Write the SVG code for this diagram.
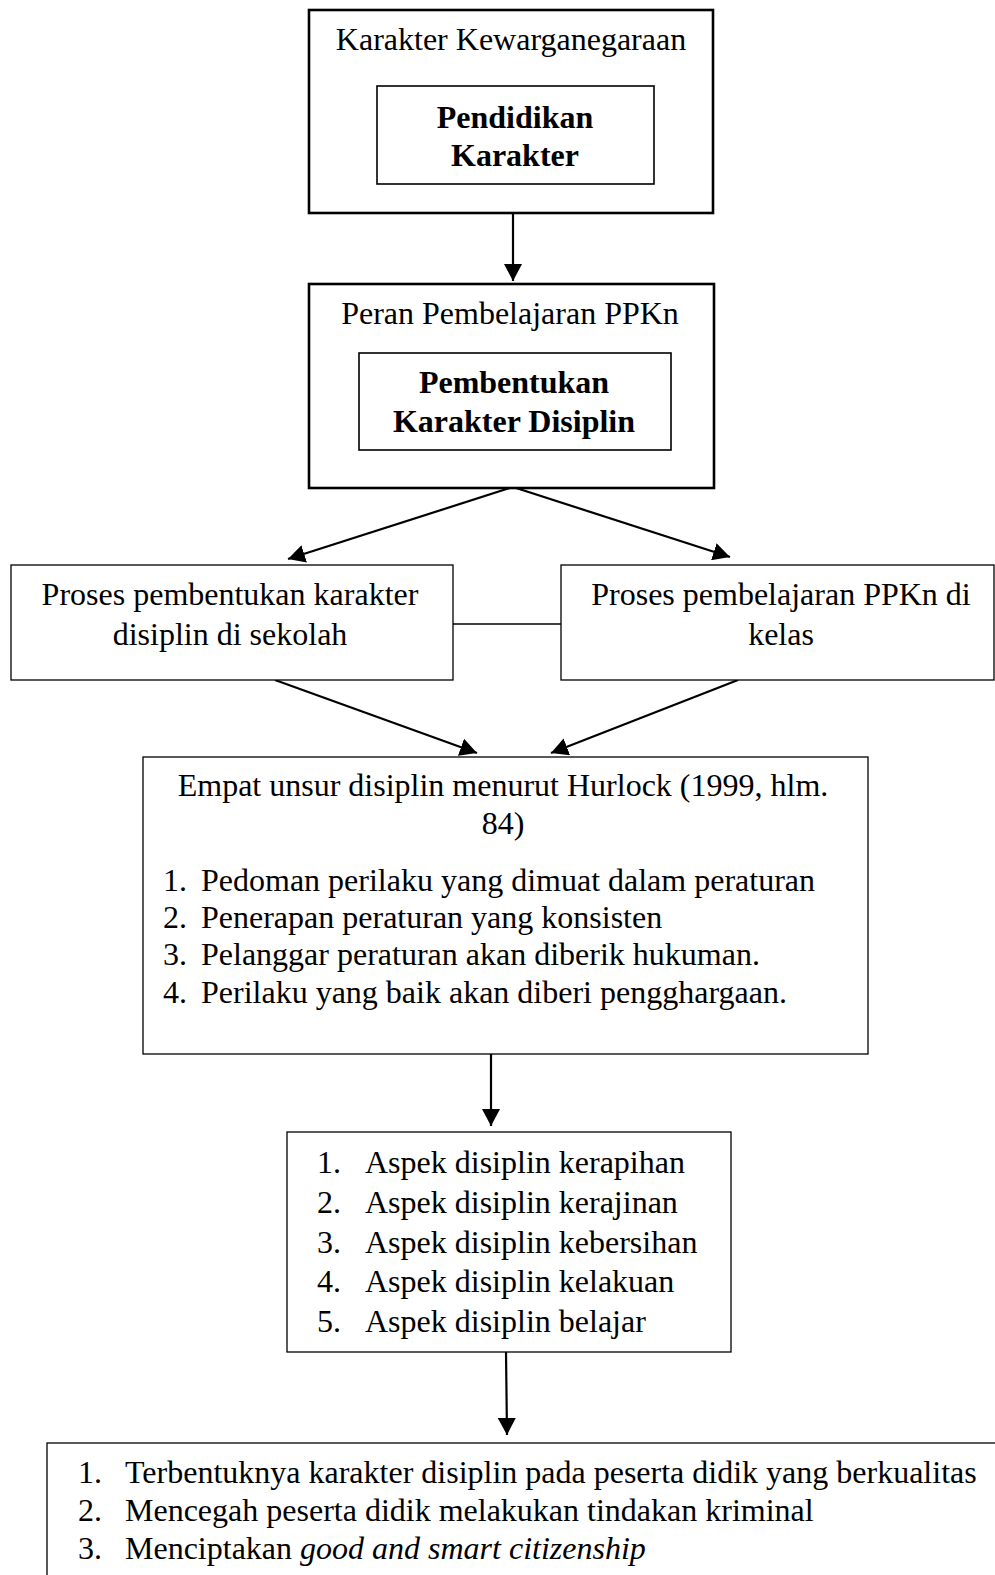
<svg xmlns="http://www.w3.org/2000/svg" width="995" height="1575" viewBox="0 0 995 1575">
<style>
  text { font-family: "Liberation Serif", "Times New Roman", serif; font-size: 32px; fill: #000; }
  .c { text-anchor: middle; }
  .b { font-weight: bold; }
  .thick { fill: #fff; stroke: #000; stroke-width: 2.6; }
  .mid { fill: #fff; stroke: #000; stroke-width: 1.6; }
  .thin { fill: #fff; stroke: #000; stroke-width: 1.3; }
  .conn { stroke: #000; stroke-width: 2.2; fill: none; }
  .plain { stroke: #000; stroke-width: 1.3; fill: none; }
</style>
<defs>
  <marker id="ah" markerUnits="userSpaceOnUse" markerWidth="18" markerHeight="18" refX="17" refY="9" orient="auto">
    <path d="M0,0 L17,9 L0,18 z" fill="#000"/>
  </marker>
</defs>
<rect width="995" height="1575" fill="#fff"/>

<g id="connectors">
  <line class="conn" x1="513" y1="213" x2="513" y2="281" marker-end="url(#ah)"/>
  <line class="conn" x1="513" y1="487" x2="288" y2="559" marker-end="url(#ah)"/>
  <line class="conn" x1="513" y1="487" x2="730" y2="557" marker-end="url(#ah)"/>
  <line class="plain" x1="453" y1="624" x2="561" y2="624"/>
  <line class="conn" x1="275" y1="680" x2="477" y2="753" marker-end="url(#ah)"/>
  <line class="conn" x1="738" y1="680" x2="551" y2="753" marker-end="url(#ah)"/>
  <line class="conn" x1="491" y1="1054" x2="491" y2="1126" marker-end="url(#ah)"/>
  <line class="conn" x1="506" y1="1352" x2="507" y2="1435" marker-end="url(#ah)"/>
</g>

<g id="node-karakter-kewarganegaraan">
  <rect class="thick" x="309" y="10" width="404" height="203"/>
  <text class="c" x="511" y="50">Karakter Kewarganegaraan</text>
  <rect class="mid" x="377" y="86" width="277" height="98"/>
  <text class="c b" x="515" y="128">Pendidikan</text>
  <text class="c b" x="515" y="166">Karakter</text>
</g>

<g id="node-peran-pembelajaran">
  <rect class="thick" x="309" y="284" width="405" height="204"/>
  <text class="c" x="510" y="324">Peran Pembelajaran PPKn</text>
  <rect class="mid" x="359" y="353" width="312" height="97"/>
  <text class="c b" x="514" y="393">Pembentukan</text>
  <text class="c b" x="514" y="432">Karakter Disiplin</text>
</g>

<g id="node-proses-pembentukan">
  <rect class="thin" x="11" y="565" width="442" height="115"/>
  <text class="c" x="230" y="605">Proses pembentukan karakter</text>
  <text class="c" x="230" y="645">disiplin di sekolah</text>
</g>

<g id="node-proses-pembelajaran">
  <rect class="thin" x="561" y="565" width="433" height="115"/>
  <text class="c" x="781" y="605">Proses pembelajaran PPKn di</text>
  <text class="c" x="781" y="645">kelas</text>
</g>

<g id="node-hurlock">
  <rect class="thin" x="143" y="757" width="725" height="297"/>
  <text class="c" x="503" y="796">Empat unsur disiplin menurut Hurlock (1999, hlm.</text>
  <text class="c" x="503" y="834">84)</text>
  <text x="163" y="891">1.</text><text x="201" y="891">Pedoman perilaku yang dimuat dalam peraturan</text>
  <text x="163" y="928">2.</text><text x="201" y="928">Penerapan peraturan yang konsisten</text>
  <text x="163" y="965">3.</text><text x="201" y="965">Pelanggar peraturan akan diberik hukuman.</text>
  <text x="163" y="1003">4.</text><text x="201" y="1003">Perilaku yang baik akan diberi pengghargaan.</text>
</g>

<g id="node-aspek">
  <rect class="thin" x="287" y="1132" width="444" height="220"/>
  <text x="317" y="1173">1.</text><text x="365" y="1173">Aspek disiplin kerapihan</text>
  <text x="317" y="1213">2.</text><text x="365" y="1213">Aspek disiplin kerajinan</text>
  <text x="317" y="1253">3.</text><text x="365" y="1253">Aspek disiplin kebersihan</text>
  <text x="317" y="1292">4.</text><text x="365" y="1292">Aspek disiplin kelakuan</text>
  <text x="317" y="1332">5.</text><text x="365" y="1332">Aspek disiplin belajar</text>
</g>

<g id="node-hasil">
  <rect class="thin" x="47" y="1443" width="970" height="200"/>
  <text x="78" y="1483">1.</text><text x="125" y="1483">Terbentuknya karakter disiplin pada peserta didik yang berkualitas</text>
  <text x="78" y="1521">2.</text><text x="125" y="1521">Mencegah peserta didik melakukan tindakan kriminal</text>
  <text x="78" y="1559">3.</text><text x="125" y="1559">Menciptakan <tspan font-style="italic">good and smart citizenship</tspan></text>
</g>
</svg>
